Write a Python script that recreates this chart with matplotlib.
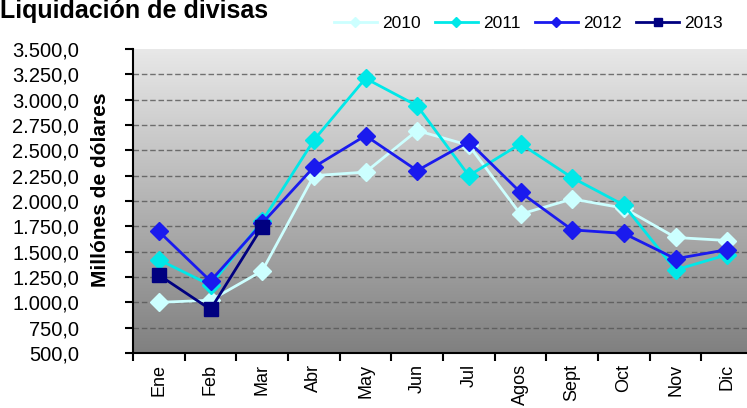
import matplotlib
matplotlib.use("Agg")
import matplotlib.pyplot as plt
import numpy as np
from matplotlib.ticker import FuncFormatter

plt.rcParams['font.family'] = ['Liberation Sans', 'DejaVu Sans']

meses = ["Ene", "Feb", "Mar", "Abr", "May", "Jun", "Jul", "Agos", "Sept", "Oct", "Nov", "Dic"]
v2010 = [1000, 1020, 1310, 2250, 2285, 2695, 2550, 1870, 2020, 1930, 1640, 1610]
v2011 = [1420, 1170, 1800, 2600, 3210, 2940, 2250, 2565, 2230, 1960, 1320, 1470]
v2012 = [1700, 1210, 1780, 2335, 2645, 2300, 2585, 2085, 1715, 1680, 1430, 1520]
v2013 = [1270, 930, 1745]

fig = plt.figure(figsize=(7.47, 4.08), dpi=100)
ax = fig.add_axes([133 / 747, 55 / 408, 620 / 747, 304 / 408])

# gray gradient background
grad = np.linspace(0, 1, 256).reshape(-1, 1)
ax.imshow(grad, cmap=matplotlib.colors.LinearSegmentedColormap.from_list("g", ["#808080", "#e8e8e8"]),
          aspect='auto', extent=[-0.5, 11.5, 500, 3500], origin='lower', zorder=0)

x = np.arange(len(meses))
ax.plot(x, v2010, color="#ccffff", lw=2, marker="D", ms=9, label="2010", zorder=3)
ax.plot(x, v2011, color="#00e8e8", lw=2, marker="D", ms=9, label="2011", zorder=4)
ax.plot(x, v2012, color="#1a1aee", lw=2, marker="D", ms=9, label="2012", zorder=5)
ax.plot(x[:len(v2013)], v2013, color="#000080", lw=2, marker="s", ms=10, label="2013", zorder=6)

ax.set_xlim(-0.5, 11.5)
ax.set_ylim(500, 3500)
ax.set_yticks(np.arange(500, 3501, 250))
ax.yaxis.set_major_formatter(FuncFormatter(
    lambda v, p: "{:,.1f}".format(v).replace(",", "X").replace(".", ",").replace("X", ".")))
for yv in np.arange(750, 3500, 250):
    ax.axhline(yv, color="#555555", lw=1, ls=(0, (4, 2)), alpha=0.8, zorder=1)

ax.set_xticks(np.arange(-0.5, 11.5, 1))
ax.set_xticklabels([])
ax.set_xticks(x, minor=True)
ax.set_xticklabels(meses, minor=True, rotation=90, fontsize=13)
ax.tick_params(axis='x', which='minor', length=0, pad=8)
ax.tick_params(axis='x', which='major', length=6, width=1.5, direction='out')
ax.tick_params(axis='y', length=6, width=1.5, labelsize=14.5, pad=33)

for s in ['top', 'right']:
    ax.spines[s].set_visible(False)
ax.spines['left'].set_linewidth(1.5)
ax.spines['bottom'].set_linewidth(1.5)

fig.text(101 / 747, 1 - 190 / 408, "Millónes de dólares", fontsize=15, fontweight='bold',
         rotation=90, ha='center', va='center')

fig.text(0.0, 0.956, "Liquidación de divisas", fontsize=18, fontweight='bold', ha='left', va='baseline')

fig.legend(loc='upper left', bbox_to_anchor=(318 / 747, 1.0), ncol=4, frameon=False,
           fontsize=12.5, handlelength=2.5, handletextpad=0.3, columnspacing=0.8, markerscale=0.6)

fig.savefig("out.png", dpi=100)
